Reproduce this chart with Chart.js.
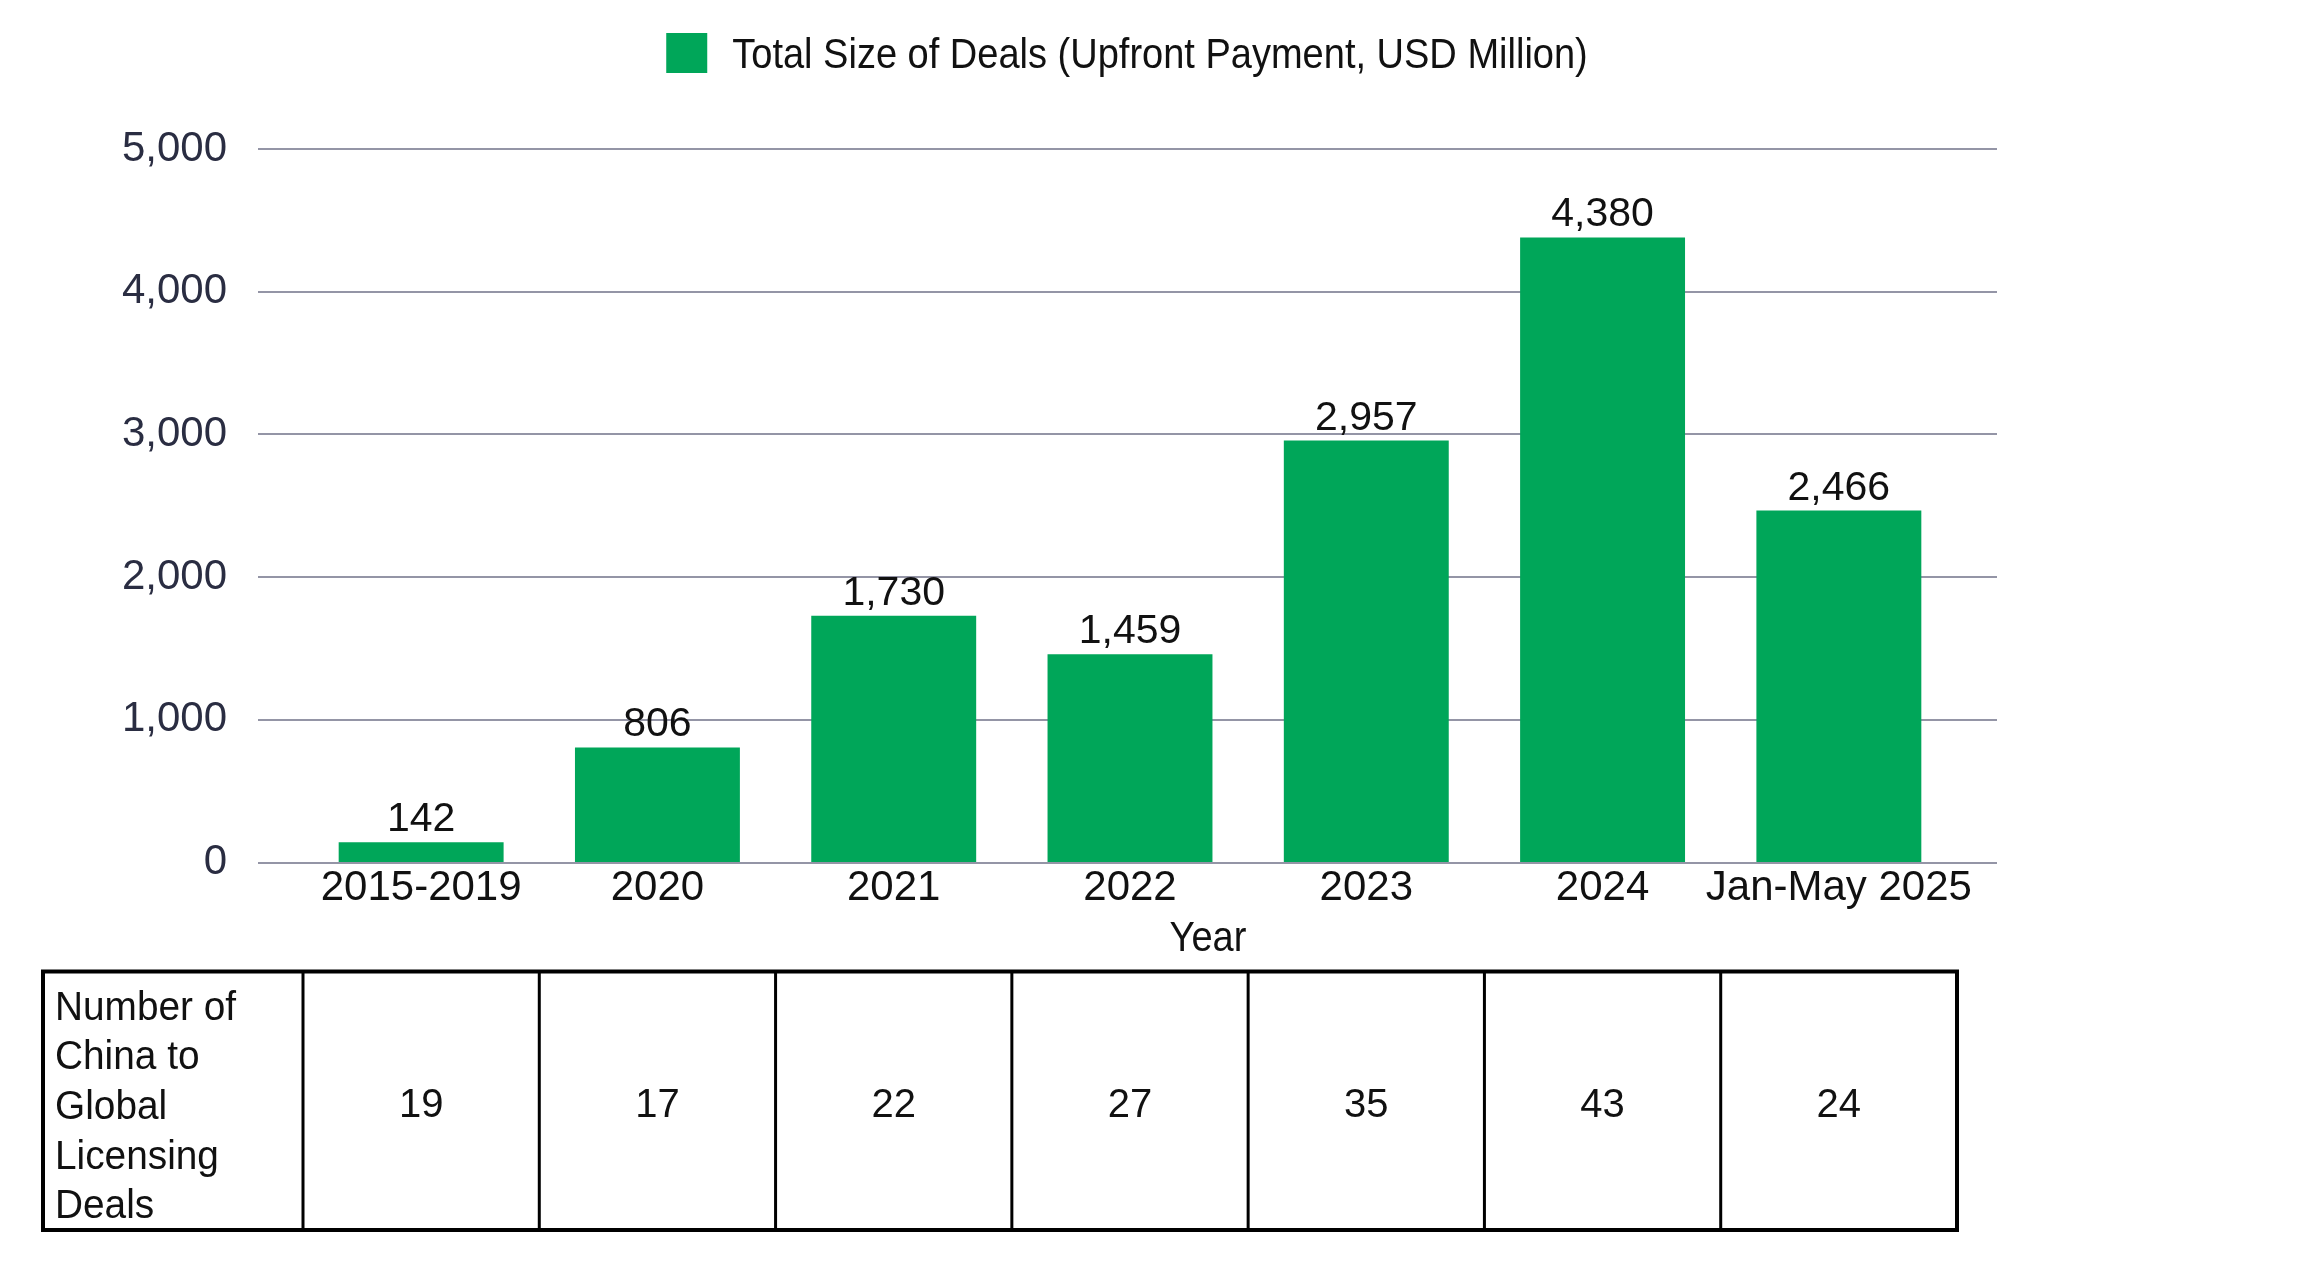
<!DOCTYPE html>
<html><head><meta charset="utf-8">
<script src="https://cdn.jsdelivr.net/npm/chart.js@4.4.1/dist/chart.umd.min.js"></script>
<style>html,body{margin:0;padding:0;background:#fff;}#wrap{width:2297px;height:1279px;position:relative;}</style>
</head><body><div id="wrap"><canvas id="c"></canvas></div>
<script>
const categories = ['2015-2019', '2020', '2021', '2022', '2023', '2024', 'Jan-May 2025'];
const upfrontPayments = [142, 806, 1730, 1459, 2957, 4380, 2466];
const dealCounts = [19, 17, 22, 27, 35, 43, 24];
const yTicks = [0, 1000, 2000, 3000, 4000, 5000];
const seriesLabel = 'Total Size of Deals (Upfront Payment, USD Million)';
const xAxisTitle = 'Year';
const tableHeader = ['Number of', 'China to', 'Global', 'Licensing', 'Deals'];

const FAM = "'Liberation Sans', Arial, sans-serif";
const GREEN = '#00A659';
const GRID = '#9495a6';

function txt(ctx, s, x, y, size, sx, align, color) {
  ctx.save();
  ctx.font = size + 'px ' + FAM;
  ctx.fillStyle = color || '#000';
  ctx.textBaseline = 'alphabetic';
  ctx.translate(x, y);
  ctx.scale(sx, 1);
  ctx.textAlign = align;
  ctx.fillText(s, 0, 0);
  ctx.restore();
}
function txtWidth(ctx, s, size, sx) {
  ctx.save(); ctx.font = size + 'px ' + FAM; const w = ctx.measureText(s).width * sx; ctx.restore(); return w;
}

const decor = {
  id: 'decor',
  beforeDatasetsDraw(chart) {
    const { ctx, scales: { x, y } } = chart;
    ctx.save();
    ctx.strokeStyle = GRID; ctx.lineWidth = 2;
    yTicks.filter(v => v !== 0).forEach(v => {
      const py = Math.round(y.getPixelForValue(v));
      ctx.beginPath(); ctx.moveTo(x.left - 45, py); ctx.lineTo(x.right + 40, py); ctx.stroke();
    });
    ctx.restore();
  },
  afterDatasetsDraw(chart) {
    const { ctx, scales: { x, y } } = chart;
    ctx.save();
    ctx.strokeStyle = GRID; ctx.lineWidth = 2;
    const p0 = Math.round(y.getPixelForValue(0));
    ctx.beginPath(); ctx.moveTo(x.left - 45, p0); ctx.lineTo(x.right + 40, p0); ctx.stroke();
    ctx.restore();
    const meta = chart.getDatasetMeta(0);
    meta.data.forEach((bar, i) => {
      txt(ctx, upfrontPayments[i].toLocaleString('en-US'), bar.x, bar.y - 11, 41, 1, 'center', '#111');
    });
  },
  afterDraw(chart) {
    const { ctx, scales: { x, y } } = chart;
    const cx = (x.left + x.right) / 2;
    const lsz = 42, lsx = 0.905;
    const tw = txtWidth(ctx, seriesLabel, lsz, lsx);
    const boxW = 41, gap = 25;
    const total = boxW + gap + tw;
    const lx = cx - 3 - total / 2;
    ctx.save();
    ctx.fillStyle = chart.data.datasets[0].backgroundColor;
    ctx.fillRect(lx, 33, boxW, 40);
    ctx.restore();
    txt(ctx, seriesLabel, lx + boxW + gap, 68, lsz, lsx, 'left', '#111');
    txt(ctx, xAxisTitle, cx + 78, 951, 42, 0.905, 'center', '#111');
    const n = categories.length;
    const catW = x.width / n;
    const tTop = 971.5, tBot = 1230, tLeft = 43;
    ctx.save();
    ctx.strokeStyle = '#000';
    ctx.lineWidth = 3;
    for (let i = 0; i < n; i++) {
      const bx = x.getPixelForValue(i) - catW / 2;
      ctx.beginPath(); ctx.moveTo(bx, tTop); ctx.lineTo(bx, tBot); ctx.stroke();
    }
    ctx.lineWidth = 4;
    const tRight = x.getPixelForValue(n - 1) + catW / 2;
    ctx.strokeRect(tLeft, tTop, tRight - tLeft, tBot - tTop);
    ctx.restore();
    tableHeader.forEach((line, k) => {
      txt(ctx, line, 55, 1019.5 + k * 49.7, 40, 0.97, 'left', '#111');
    });
    const rowMid = (tTop + tBot) / 2;
    dealCounts.forEach((v, i) => {
      txt(ctx, String(v), x.getPixelForValue(i), rowMid + 16, 40, 1, 'center', '#111');
    });
  }
};

new Chart(document.getElementById('c'), {
  type: 'bar',
  data: {
    labels: categories,
    datasets: [{
      label: seriesLabel,
      data: upfrontPayments,
      backgroundColor: GREEN,
      borderWidth: 0,
      barPercentage: 0.698,
      categoryPercentage: 1
    }]
  },
  options: {
    responsive: true,
    maintainAspectRatio: false,
    animation: false,
    devicePixelRatio: 1,
    layout: { padding: { left: 0, right: 340, top: 149, bottom: 0 } },
    plugins: { legend: { display: false }, tooltip: { enabled: false } },
    scales: {
      x: {
        grid: { display: false, drawTicks: false },
        border: { display: false },
        ticks: { padding: 1, color: '#111', font: { family: FAM, size: 42 }, maxRotation: 0, autoSkip: false },
        afterFit(s) { s.height = 416.5; }
      },
      y: {
        min: 0, max: 5000,
        grid: { display: false, drawTicks: false },
        border: { display: false },
        afterBuildTicks(s) { s.ticks = yTicks.map(v => ({ value: v })); },
        ticks: { padding: 76, color: '#2a2d42', font: { family: FAM, size: 42 }, callback: v => v.toLocaleString('en-US') },
        afterFit(s) { s.width = 303; }
      }
    }
  },
  plugins: [decor]
});
</script>
</body></html>
